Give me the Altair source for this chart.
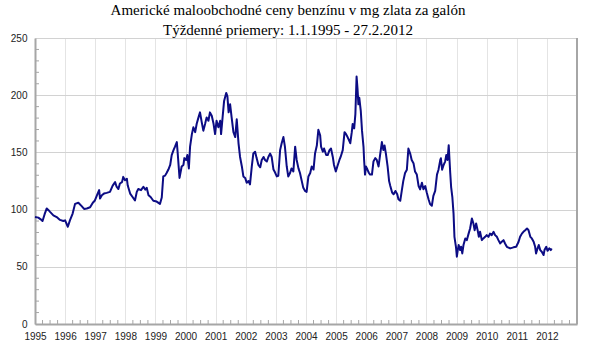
import altair as alt
import pandas as pd

title_lines = ["Americké maloobchodné ceny benzínu v mg zlata za galón",
               "Týždenné priemery: 1.1.1995 - 27.2.2012"]

years = [
    1995.00, 1995.11, 1995.19, 1995.25, 1995.32, 1995.39, 1995.45, 1995.50, 1995.61, 1995.72,
    1995.83, 1995.94, 1996.00, 1996.09, 1996.16, 1996.25, 1996.33, 1996.44, 1996.55, 1996.63,
    1996.72, 1996.83, 1996.92, 1996.99, 1997.08, 1997.13, 1997.16, 1997.22, 1997.29, 1997.38,
    1997.49, 1997.58, 1997.66, 1997.71, 1997.77, 1997.82, 1997.89, 1997.93, 1997.99, 1998.05,
    1998.08, 1998.16, 1998.24, 1998.32, 1998.38, 1998.43, 1998.52, 1998.60, 1998.66, 1998.71,
    1998.77, 1998.84, 1998.93, 1999.04, 1999.15, 1999.21, 1999.26, 1999.32, 1999.37, 1999.43,
    1999.49, 1999.54, 1999.60, 1999.65, 1999.71, 1999.74, 1999.80, 1999.87, 1999.93, 1999.96,
    2000.02, 2000.06, 2000.11, 2000.15, 2000.21, 2000.26, 2000.32, 2000.37, 2000.43, 2000.48,
    2000.54, 2000.59, 2000.65, 2000.70, 2000.76, 2000.81, 2000.87, 2000.93, 2000.98, 2001.03,
    2001.09, 2001.15, 2001.18, 2001.23, 2001.28, 2001.35, 2001.39, 2001.43, 2001.48, 2001.53,
    2001.59, 2001.65, 2001.70, 2001.76, 2001.81, 2001.87, 2001.92, 2001.98, 2002.03, 2002.09,
    2002.14, 2002.20, 2002.25, 2002.31, 2002.36, 2002.42, 2002.48, 2002.53, 2002.59, 2002.64,
    2002.70, 2002.75, 2002.81, 2002.86, 2002.92, 2002.97, 2003.03, 2003.08, 2003.14, 2003.19,
    2003.25, 2003.30, 2003.36, 2003.41, 2003.47, 2003.52, 2003.58, 2003.64, 2003.69, 2003.75,
    2003.80, 2003.86, 2003.91, 2003.97, 2004.02, 2004.08, 2004.14, 2004.19, 2004.25, 2004.30,
    2004.36, 2004.41, 2004.47, 2004.50, 2004.56, 2004.60, 2004.67, 2004.72, 2004.78, 2004.83,
    2004.89, 2004.93, 2004.99, 2005.04, 2005.11, 2005.15, 2005.22, 2005.28, 2005.33, 2005.38,
    2005.43, 2005.47, 2005.52, 2005.55, 2005.60, 2005.64, 2005.68, 2005.71, 2005.74, 2005.77,
    2005.82, 2005.86, 2005.91, 2005.93, 2005.96, 2005.99, 2006.04, 2006.09, 2006.13, 2006.19,
    2006.24, 2006.30, 2006.35, 2006.41, 2006.46, 2006.52, 2006.57, 2006.61, 2006.66, 2006.71,
    2006.76, 2006.80, 2006.86, 2006.91, 2006.97, 2007.03, 2007.07, 2007.13, 2007.18, 2007.23,
    2007.29, 2007.35, 2007.40, 2007.46, 2007.51, 2007.57, 2007.62, 2007.68, 2007.74, 2007.79,
    2007.85, 2007.90, 2007.96, 2008.01, 2008.07, 2008.12, 2008.18, 2008.23, 2008.29, 2008.35,
    2008.40, 2008.46, 2008.48, 2008.52, 2008.57, 2008.62, 2008.66, 2008.70, 2008.74, 2008.79,
    2008.82, 2008.86, 2008.90, 2008.93, 2008.98, 2009.01, 2009.04, 2009.07, 2009.12, 2009.15,
    2009.19, 2009.23, 2009.29, 2009.34, 2009.40, 2009.45, 2009.51, 2009.56, 2009.60, 2009.65,
    2009.70, 2009.74, 2009.78, 2009.84, 2009.89, 2009.95, 2010.00, 2010.06, 2010.11, 2010.17,
    2010.23, 2010.28, 2010.34, 2010.39, 2010.45, 2010.50, 2010.56, 2010.61, 2010.67, 2010.78,
    2010.89, 2010.98, 2011.06, 2011.11, 2011.17, 2011.22, 2011.28, 2011.34, 2011.39, 2011.45,
    2011.50, 2011.56, 2011.61, 2011.64, 2011.69, 2011.73, 2011.78, 2011.83, 2011.89, 2011.92,
    2011.98, 2012.02, 2012.08, 2012.13, 2012.16,
]

values = [
    93.6, 93.0, 91.5, 90.0, 96.0, 101.0, 99.5, 98.0, 95.0, 93.5,
    91.0, 90.0, 90.6, 85.0, 90.6, 96.5, 105.0, 106.0, 103.0, 100.6,
    101.0, 102.0, 106.0, 108.0, 114.0, 117.0, 109.6, 112.6, 114.0, 114.6,
    115.5, 121.0, 124.0, 120.0, 118.0, 122.8, 124.0, 128.6, 125.7, 127.0,
    121.0, 114.0, 111.0, 108.0, 115.5, 118.0, 117.0, 120.0, 117.5, 119.0,
    112.6, 111.0, 107.7, 107.0, 105.0, 110.6, 129.0, 129.7, 132.0, 135.0,
    139.0, 147.7, 152.0, 155.0, 159.0, 149.0, 127.7, 137.7, 139.0, 145.0,
    143.4, 147.7, 136.0, 155.0, 166.0, 172.0, 167.7, 175.0, 180.6, 185.0,
    176.0, 169.0, 175.0, 180.6, 177.7, 185.0, 182.0, 175.0, 166.0, 177.7,
    172.0, 177.7, 166.0, 180.6, 195.0, 202.0, 199.0, 185.0, 192.0, 180.6,
    167.7, 163.4, 179.0, 157.7, 146.0, 137.7, 129.0, 127.7, 123.4, 125.0,
    122.0, 137.7, 149.0, 150.6, 145.0, 139.0, 137.0, 143.4, 146.0, 143.4,
    142.0, 146.0, 149.0, 146.0, 135.0, 132.6, 129.0, 129.6, 152.0, 157.7,
    163.4, 155.0, 137.7, 129.0, 132.0, 136.0, 133.4, 155.0, 143.4, 136.0,
    132.0, 124.9, 119.0, 116.3, 115.4, 129.0, 132.0, 137.7, 135.0, 149.0,
    156.0, 169.7, 164.9, 155.0, 150.6, 153.4, 147.7, 147.7, 152.0, 153.4,
    146.0, 139.0, 133.4, 137.7, 143.4, 146.0, 152.0, 167.7, 166.0, 163.4,
    160.6, 158.0, 167.7, 174.9, 171.0, 183.4, 216.3, 206.0, 192.0, 197.7,
    186.0, 169.0, 154.9, 143.4, 130.6, 137.7, 135.0, 132.0, 130.6, 130.6,
    142.0, 145.0, 143.4, 137.7, 147.7, 159.0, 152.0, 156.0, 147.7, 137.7,
    124.9, 120.6, 114.9, 113.4, 116.3, 113.4, 109.0, 107.7, 116.3, 124.9,
    132.0, 134.9, 153.4, 149.0, 143.4, 140.6, 133.4, 130.6, 120.6, 117.7,
    123.4, 117.7, 120.6, 114.9, 109.0, 104.9, 103.4, 112.0, 116.3, 130.6,
    134.9, 143.4, 144.9, 134.9, 139.0, 142.0, 147.7, 143.4, 156.3, 132.0,
    119.7, 111.0, 96.5, 76.2, 67.5, 58.8, 64.6, 69.0, 64.6, 67.5,
    61.7, 69.0, 74.8, 73.3, 79.0, 83.5, 92.2, 87.8, 82.0, 87.8,
    82.0, 76.2, 80.6, 73.3, 74.8, 76.2, 77.7, 76.2, 79.0, 77.7,
    80.6, 77.7, 76.2, 73.3, 70.4, 71.9, 73.3, 70.4, 67.5, 66.1,
    67.0, 67.5, 71.9, 76.2, 79.0, 80.6, 82.0, 83.5, 82.0, 76.2,
    74.8, 71.9, 67.5, 61.7, 66.1, 69.0, 64.6, 63.2, 60.3, 64.6,
    67.5, 64.0, 66.1, 64.6, 66.0,
]

year_ticks = list(range(1995, 2013))
y_ticks = [0, 50, 100, 150, 200, 250]
x_minor = [y + q / 4 for y in range(1995, 2013) for q in range(1, 4)]
y_minor = [v for v in range(10, 250, 10) if v % 50 != 0]

W, H = 542, 286
AXIS_GRAY = "#a6a6a6"

df = pd.DataFrame({"year": years, "value": values})

x_scale = alt.Scale(domain=[1995, 2013], nice=False, zero=False)
y_scale = alt.Scale(domain=[0, 250], nice=False)

base_axis_cfg = dict(labelFont="Liberation Sans", labelFontSize=10, labelColor="#222222",
                     ticks=False, domainColor=AXIS_GRAY, domainWidth=2)

x_axis = alt.Axis(values=year_ticks, format="d", title=None, grid=True,
                  gridColor="#e4e4e4", gridWidth=1, labelPadding=7,
                  labelFlush=False, labelOverlap=False, labelBound=False,
                  **base_axis_cfg)
y_axis = alt.Axis(values=y_ticks, title=None, grid=True, gridColor="#d2d2d2",
                  gridWidth=1, labelPadding=8, labelOverlap=False,
                  **base_axis_cfg)

line = alt.Chart(df).mark_line(color="#0c0c84", strokeWidth=2, strokeJoin="round").encode(
    x=alt.X("year:Q", scale=x_scale, axis=x_axis),
    y=alt.Y("value:Q", scale=y_scale, axis=y_axis),
)

xminor = alt.Chart(pd.DataFrame({"t": x_minor})).mark_rule(color=AXIS_GRAY, strokeWidth=1).encode(
    x=alt.X("t:Q", scale=x_scale, axis=x_axis),
    y=alt.value(H - 4), y2=alt.value(H),
)
yminor = alt.Chart(pd.DataFrame({"t": y_minor})).mark_rule(color=AXIS_GRAY, strokeWidth=1).encode(
    y=alt.Y("t:Q", scale=y_scale, axis=y_axis),
    x=alt.value(0), x2=alt.value(4),
)
right_border = alt.Chart(pd.DataFrame({"t": [2013]})).mark_rule(color=AXIS_GRAY, strokeWidth=2).encode(
    x=alt.X("t:Q", scale=x_scale, axis=x_axis),
    y=alt.value(0), y2=alt.value(H),
)

chart = alt.layer(line, xminor, yminor, right_border).properties(
    width=W, height=H,
    title=alt.TitleParams(text=title_lines, font="Liberation Serif", fontSize=15,
                          fontWeight="normal", color="#000000", lineHeight=20,
                          anchor="middle", dx=-18, offset=-5),
    autosize=alt.AutoSizeParams(type="none"),
    padding={"left": 35, "top": 38, "right": 13, "bottom": 27},
).configure_view(stroke=None).configure(background="white")

chart.save("out.html", embed_options={"renderer": "svg", "actions": False})
